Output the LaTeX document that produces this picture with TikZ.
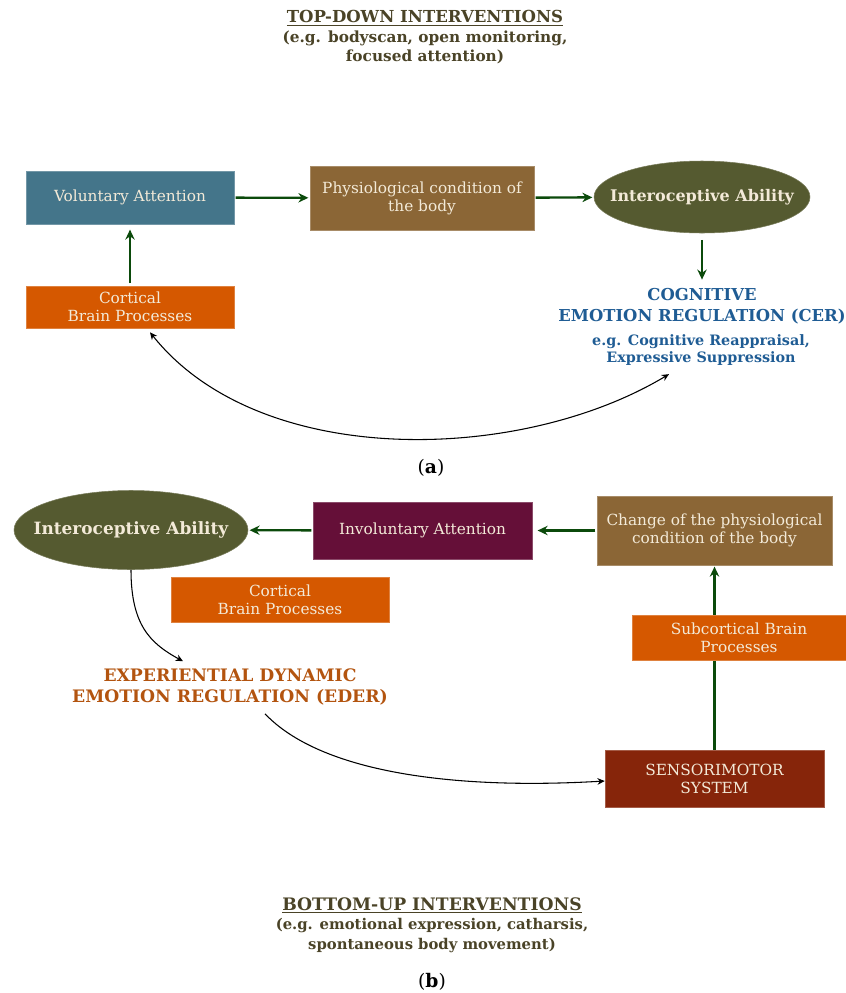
\documentclass[tikz,border=0pt]{standalone}
\usepackage{fontspec}
\setmainfont{DejaVu Serif}
\usetikzlibrary{shapes.geometric,arrows.meta}

\definecolor{volblue}{HTML}{44758A}
\definecolor{bodybrown}{HTML}{8B6636}
\definecolor{iaolive}{HTML}{555A30}
\definecolor{brainorange}{HTML}{D55800}
\definecolor{invmaroon}{HTML}{650F38}
\definecolor{smred}{HTML}{86250A}
\definecolor{arrowgreen}{HTML}{0B4A0B}
\definecolor{cerblue}{HTML}{1F5C94}
\definecolor{ederbrown}{HTML}{B3540F}
\definecolor{titledark}{HTML}{4A4327}
\definecolor{boxtext}{HTML}{F3EAD8}

\tikzset{
  box/.style={rectangle, fill=#1, draw=#1!75!white, text=boxtext, align=center,
    inner sep=2pt, font=\fontsize{11.5}{13.5}\selectfont},
  ability/.style={ellipse, fill=iaolive, draw=iaolive!80!white, text=boxtext,
    inner xsep=-40pt, inner ysep=-10pt, font=\bfseries\fontsize{12}{13}\selectfont},
  flow/.style={->, arrowgreen, line width=1.8pt},
  curvearrow/.style={black, line width=0.8pt, >={Stealth[length=5.5pt,width=5pt]}},
  heading/.style={text=titledark, align=center, font=\bfseries\fontsize{11.5}{14.6}\selectfont},
  regtext/.style={align=center, font=\bfseries\fontsize{12.3}{15.5}\selectfont},
}

\begin{document}
\begin{tikzpicture}[x=0.75pt, y=-0.75pt, >={Stealth[length=7.5pt,width=7pt]}]
\useasboundingbox (0,0) rectangle (846,993);

% (a) top-down
\node[heading] (tdtitle) at (425,37.5) {{\fontsize{12.4}{14.6}\selectfont\underline{TOP-DOWN INTERVENTIONS}}\\(e.g. bodyscan, open monitoring,\\focused attention)};
\node[box=volblue, minimum width=156pt, minimum height=39.75pt] (va) at (130,197.5) {Voluntary Attention};
\node[box=bodybrown, minimum width=168pt, minimum height=48pt] (phys) at (422,198) {Physiological condition of\\the body};
\node[ability, minimum width=162pt, minimum height=54pt] (iaA) at (702,197) {Interoceptive Ability};
\node[box=brainorange, minimum width=156pt, minimum height=31.5pt] (cortA) at (130,307) {Cortical\\Brain Processes};
\node[regtext, text=cerblue] (cer) at (702,306) {COGNITIVE\\EMOTION REGULATION (CER)};
\node[regtext, text=cerblue, font=\bfseries\fontsize{10.75}{12.75}\selectfont] (cerEx) at (701,350) {e.g. Cognitive Reappraisal,\\Expressive Suppression};
\node[font=\fontsize{14}{16}\selectfont] (capA) at (431,468) {({\bfseries a})};

\draw[flow, shorten <=1pt, shorten >=1pt] (va) -- (phys);
\draw[flow, shorten <=1pt, shorten >=1pt] (phys) -- (iaA);
\draw[flow, shorten <=5pt, shorten >=3pt] (iaA) -- (cer);
\draw[flow, shorten <=2pt, shorten >=4pt] (cortA) -- (va);
\draw[curvearrow, <->] ([shift={(20,4)}]cortA.south) .. controls +(110,138) and +(-148,89) .. ([shift={(-32,4)}]cerEx.south);

% (b) bottom-up
\node[ability, minimum width=175.5pt, minimum height=59.25pt, font=\bfseries\fontsize{12.7}{13}\selectfont] (iaB) at (131,530) {Interoceptive Ability};
\node[box=invmaroon, minimum width=164.25pt, minimum height=42.75pt] (inv) at (422.5,530.5) {Involuntary Attention};
\node[box=bodybrown, minimum width=176.25pt, minimum height=51.75pt] (chg) at (714.5,530.5) {Change of the physiological\\condition of the body};
\node[box=brainorange, minimum width=163.5pt, minimum height=33.75pt] (cortB) at (280,599.5) {Cortical\\Brain Processes};
\node[box=smred, minimum width=164.25pt, minimum height=42.75pt] (sm) at (714.5,778.5) {SENSORIMOTOR\\SYSTEM};
\draw[flow, shorten >=1pt] (sm) -- (chg);
\node[box=brainorange, minimum width=160.5pt, minimum height=33.75pt] (sub) at (739,637.5) {Subcortical Brain\\Processes};
\node[regtext, text=ederbrown, font=\bfseries\fontsize{12.9}{15.5}\selectfont] (eder) at (230,687) {EXPERIENTIAL DYNAMIC\\EMOTION REGULATION (EDER)};
\node[heading, font=\bfseries\fontsize{11.1}{14.6}\selectfont] (butitle) at (432,925) {{\fontsize{12.9}{14.6}\selectfont\underline{BOTTOM-UP INTERVENTIONS}}\\(e.g. emotional expression, catharsis,\\spontaneous body movement)};
\node[font=\fontsize{14}{16}\selectfont] (capB) at (432,982) {({\bfseries b})};

\draw[flow, shorten <=1pt, shorten >=1pt] (inv) -- (iaB);
\draw[flow, shorten <=1pt, shorten >=4pt] (chg) -- (inv);
\draw[curvearrow, ->] (iaB.south) .. controls +(0,55) and +(-33,-18) .. ([shift={(-47,-3)}]eder.north);
\draw[curvearrow, ->] ([shift={(35,4)}]eder.south) .. controls +(55,58) and +(-154,9) .. ([shift={(0,2.5)}]sm.west);
\end{tikzpicture}
\end{document}
